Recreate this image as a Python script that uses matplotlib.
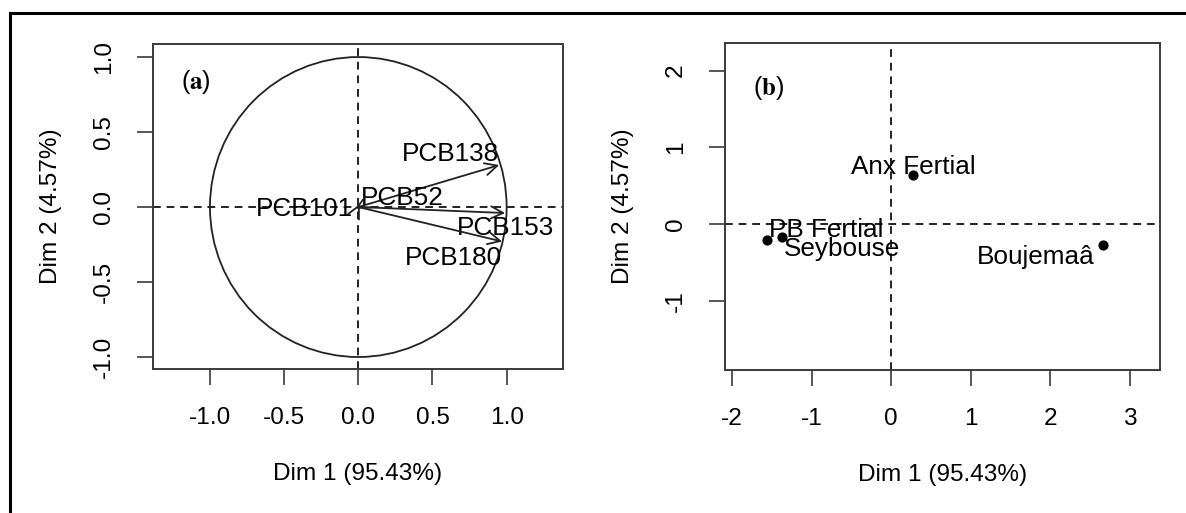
import numpy as np
import matplotlib
matplotlib.use("Agg")
import matplotlib.pyplot as plt
from matplotlib.lines import Line2D
from matplotlib.patches import Circle

plt.rcParams.update({
    "font.family": ["Liberation Sans", "DejaVu Sans"],
    "font.size": 17.6,
    "mathtext.fontset": "stix",
    "axes.unicode_minus": False,
})

# (a) variables factor map
VARS = ["PCB138", "PCB153", "PCB180", "PCB52", "PCB101"]
VAR_X = [0.95, 0.99, 0.97, 0.01, -0.02]
VAR_Y = [0.28, -0.04, -0.23, 0.02, -0.01]

# (b) individuals factor map
SITES = ["Anx Fertial", "Boujemaâ", "PB Fertial", "Seybouse"]
SITE_X = [0.28, 2.66, -1.56, -1.37]
SITE_Y = [0.64, -0.27, -0.21, -0.17]

# label placement (alignment + offset in points)
VAR_ALIGN = [("right", "bottom", 0, -1), ("center", "top", 0, -2),
             ("right", "top", 0, -3), ("left", "center", 1, 4),
             ("right", "center", -2, 0)]
SITE_ALIGN = [("center", "bottom", 0, -3), ("right", "top", -6, 0),
              ("left", "bottom", 1, -1), ("left", "top", 1, 0)]

XLAB = "Dim 1 (95.43%)"
YLAB = "Dim 2 (4.57%)"
BOX = "#3a3a3a"
LBL_SIZE = 18.8

W, H = 1186, 513
fig = plt.figure(figsize=(W / 100, H / 100), dpi=100)


def px(x0, y0, x1, y1):
    return [x0 / W, 1 - y1 / H, (x1 - x0) / W, (y1 - y0) / H]


def style(ax):
    for s in ax.spines.values():
        s.set_color(BOX)
        s.set_linewidth(1.4)
    ax.tick_params(length=11.5, width=1.2, color=BOX, pad=16)
    ax.tick_params(axis="y", labelrotation=90)
    for t in ax.get_yticklabels():
        t.set_va("center")
    ax.axhline(0, color="#222", ls=(0, (4, 3)), lw=1.4)
    ax.axvline(0, color="#222", ls=(0, (4, 3)), lw=1.4)
    ax.set_xlabel(XLAB, labelpad=24)
    ax.set_ylabel(YLAB, labelpad=22)


def label(ax, name, x, y, spec):
    ha, va, dx, dy = spec
    ax.annotate(name, xy=(x, y), xytext=(dx, dy), textcoords="offset points",
                ha=ha, va=va, fontsize=LBL_SIZE, color="black")


# ---- panel (a)
ax1 = fig.add_axes(px(153, 44, 563, 369))
ax1.set_xlim(-1.384, 1.380)
ax1.set_ylim(-1.08, 1.087)
ax1.set_xticks([-1.0, -0.5, 0.0, 0.5, 1.0])
ax1.set_yticks([-1.0, -0.5, 0.0, 0.5, 1.0])
ax1.set_xticklabels(["-1.0", "-0.5", "0.0", "0.5", "1.0"])
ax1.set_yticklabels(["-1.0", "-0.5", "0.0", "0.5", "1.0"])
style(ax1)
ax1.add_patch(Circle((0, 0), 1, fill=False, ec="#222", lw=1.3))
for name, x, y, spec in zip(VARS, VAR_X, VAR_Y, VAR_ALIGN):
    ax1.annotate("", xy=(x, y), xytext=(0, 0),
                 arrowprops=dict(arrowstyle="->", color="#222", lw=1.3,
                                 mutation_scale=22, shrinkA=0, shrinkB=0))
    label(ax1, name, x, y, spec)
ax1.text(0.105, 0.883, r"($\mathbf{a}$)", transform=ax1.transAxes,
         ha="center", va="center", fontsize=18)

# ---- panel (b)
ax2 = fig.add_axes(px(725, 43, 1160, 370))
ax2.set_xlim(-2.09, 3.38)
ax2.set_ylim(-1.90, 2.36)
ax2.set_xticks([-2, -1, 0, 1, 2, 3])
ax2.set_yticks([-1, 0, 1, 2])
style(ax2)
ax2.scatter(SITE_X, SITE_Y, s=40, color="black", zorder=3)
for name, x, y, spec in zip(SITES, SITE_X, SITE_Y, SITE_ALIGN):
    label(ax2, name, x, y, spec)
ax2.text(0.101, 0.862, r"($\mathbf{b}$)", transform=ax2.transAxes,
         ha="center", va="center", fontsize=18)

# outer frame (left and top edges visible)
fig.add_artist(Line2D([10 / W, 10 / W], [0, 1 - 13 / H],
                      transform=fig.transFigure, color="black", lw=2.2))
fig.add_artist(Line2D([10 / W, 1], [1 - 13 / H, 1 - 13 / H],
                      transform=fig.transFigure, color="black", lw=2.2))

fig.savefig("out.png", dpi=100)
